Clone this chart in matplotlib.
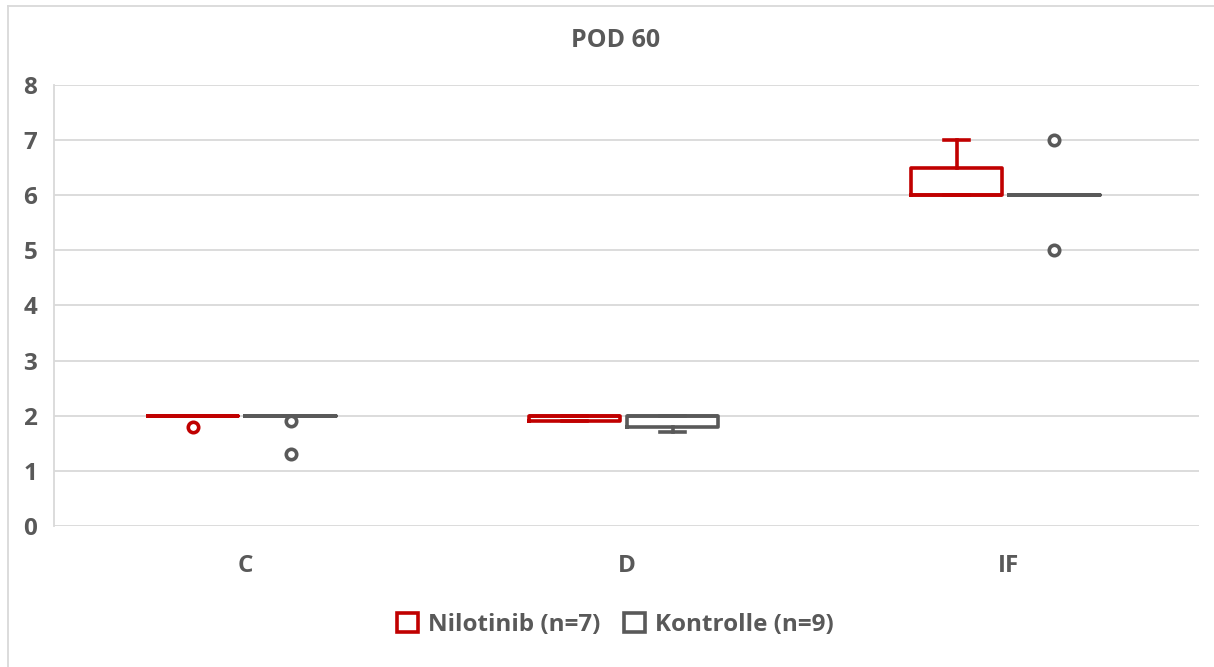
import matplotlib.pyplot as plt
from matplotlib.patches import Patch
from matplotlib.lines import Line2D

# ---------- Data ----------
categories = ["C", "D", "IF"]

nilo_q1 = [2.0, 1.9, 6.0]
nilo_med = [2.0, 2.0, 6.0]
nilo_q3 = [2.0, 2.0, 6.5]
nilo_lo = [2.0, 1.9, 6.0]
nilo_hi = [2.0, 2.0, 7.0]
nilo_fliers = [[1.8], [], []]

kont_q1 = [2.0, 1.8, 6.0]
kont_med = [2.0, 2.0, 6.0]
kont_q3 = [2.0, 2.0, 6.0]
kont_lo = [2.0, 1.7, 6.0]
kont_hi = [2.0, 2.0, 6.0]
kont_fliers = [[1.9, 1.3], [], [7.0, 5.0]]

series_labels = ["Nilotinib (n=7)", "Kontrolle (n=9)"]

RED = "#C00000"
GRAY = "#595959"
GRID = "#D9D9D9"
FONT = "Open Sans"
LW = 2.6


def make_stats(q1, med, q3, lo, hi, fliers):
    return [
        dict(q1=a, med=m, q3=b, whislo=l, whishi=h, fliers=f, mean=m)
        for a, m, b, l, h, f in zip(q1, med, q3, lo, hi, fliers)
    ]


def draw_series(ax, stats, positions, color):
    ax.bxp(
        stats,
        positions=positions,
        widths=0.238,
        showmeans=False,
        showfliers=True,
        capwidths=0.066,
        boxprops=dict(color=color, linewidth=LW),
        whiskerprops=dict(color=color, linewidth=LW),
        capprops=dict(color=color, linewidth=LW),
        medianprops=dict(color=color, linewidth=LW),
        flierprops=dict(marker="o", markersize=7.5, markerfacecolor="white",
                        markeredgecolor=color, markeredgewidth=2.6),
        manage_ticks=False,
        zorder=3,
    )


# ---------- Figure ----------
fig = plt.figure(figsize=(12.14, 6.67), dpi=100)
ax = fig.add_axes([0.0445, 0.2114, 0.9435, 0.6612])

x = list(range(len(categories)))
offset = 0.128
shift = -0.008
draw_series(ax, make_stats(nilo_q1, nilo_med, nilo_q3, nilo_lo, nilo_hi, nilo_fliers),
            [i - offset + shift for i in x], RED)
draw_series(ax, make_stats(kont_q1, kont_med, kont_q3, kont_lo, kont_hi, kont_fliers),
            [i + offset + shift for i in x], GRAY)

ax.set_xlim(-0.5, 2.5)
ax.set_ylim(0, 8)
ax.set_yticks(range(0, 9))
ax.set_xticks(x)
ax.set_xticklabels(categories)
ax.yaxis.grid(True, color=GRID, linewidth=1.3, zorder=0)
ax.set_axisbelow(True)

for side in ["top", "right", "bottom"]:
    ax.spines[side].set_visible(False)
ax.spines["left"].set_color(GRID)
ax.spines["left"].set_linewidth(1.3)

ax.tick_params(axis="both", length=0, labelcolor=GRAY, labelsize=17.5)
ax.tick_params(axis="y", pad=12)
ax.tick_params(axis="x", pad=20)
for lbl in ax.get_xticklabels() + ax.get_yticklabels():
    lbl.set_fontfamily(FONT)
    lbl.set_fontweight("bold")

fig.text(0.507, 0.94, "POD 60", ha="center", va="center", color=GRAY,
         fontsize=18, fontweight="bold", family=FONT)

handles = [
    Patch(facecolor="white", edgecolor=RED, linewidth=2.6),
    Patch(facecolor="white", edgecolor=GRAY, linewidth=2.6),
]
fig.legend(handles, series_labels, loc="center", bbox_to_anchor=(0.507, 0.063),
           ncol=2, frameon=False, handlelength=0.85, handleheight=0.85,
           handletextpad=0.4, columnspacing=1.0,
           prop=dict(family=FONT, weight="bold", size=17.5), labelcolor=GRAY)

# light border of the chart area (top and left edges visible)
fig.add_artist(Line2D([8 / 1214, 1.0], [1 - 6 / 667, 1 - 6 / 667],
                      transform=fig.transFigure, color=GRID, linewidth=1.3))
fig.add_artist(Line2D([8 / 1214, 8 / 1214], [0.0, 1 - 6 / 667],
                      transform=fig.transFigure, color=GRID, linewidth=1.3))

fig.savefig("out.png", dpi=100)
